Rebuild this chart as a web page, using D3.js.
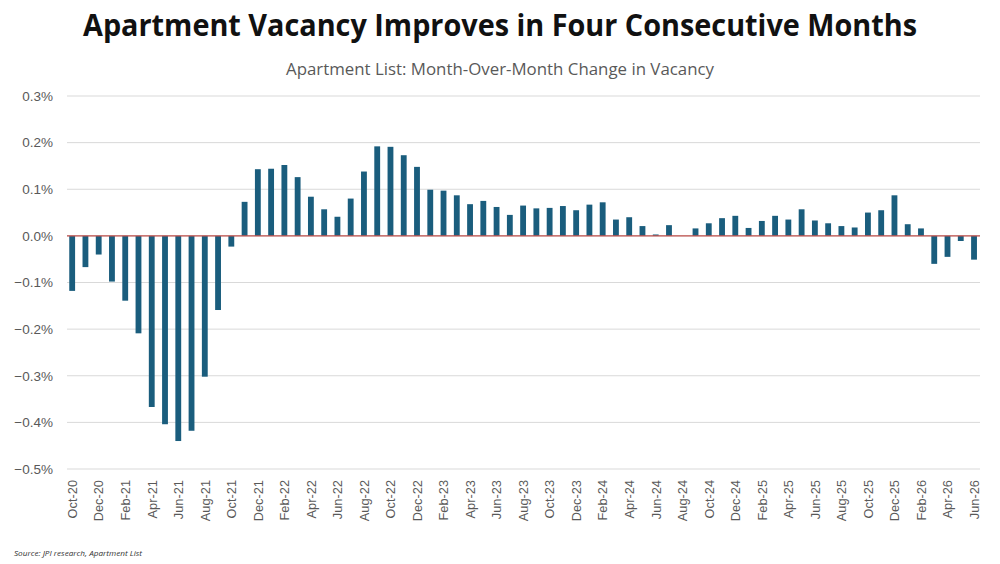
<!DOCTYPE html>
<html><head><meta charset="utf-8">
<script src="https://cdn.jsdelivr.net/npm/d3@7"></script>
<style>body{margin:0;background:#fff}svg{display:block}</style>
</head><body>
<svg id="c" width="1000" height="564"></svg>
<script>
const months = ["Oct-20","Nov-20","Dec-20","Jan-21","Feb-21","Mar-21","Apr-21","May-21","Jun-21","Jul-21","Aug-21","Sep-21",
"Oct-21","Nov-21","Dec-21","Jan-22","Feb-22","Mar-22","Apr-22","May-22","Jun-22","Jul-22","Aug-22","Sep-22",
"Oct-22","Nov-22","Dec-22","Jan-23","Feb-23","Mar-23","Apr-23","May-23","Jun-23","Jul-23","Aug-23","Sep-23",
"Oct-23","Nov-23","Dec-23","Jan-24","Feb-24","Mar-24","Apr-24","May-24","Jun-24","Jul-24","Aug-24","Sep-24",
"Oct-24","Nov-24","Dec-24","Jan-25","Feb-25","Mar-25","Apr-25","May-25","Jun-25","Jul-25","Aug-25","Sep-25",
"Oct-25","Nov-25","Dec-25","Jan-26","Feb-26","Mar-26","Apr-26","May-26","Jun-26"];
const vacancyChange = [-0.118,-0.067,-0.040,-0.098,-0.139,-0.209,-0.367,-0.404,-0.440,-0.418,-0.302,-0.159,
-0.023,0.073,0.143,0.144,0.152,0.126,0.084,0.057,0.041,0.080,0.138,0.192,
0.191,0.173,0.148,0.099,0.097,0.087,0.068,0.075,0.062,0.045,0.065,0.059,
0.060,0.064,0.055,0.067,0.072,0.035,0.040,0.021,0.003,0.023,0.000,0.016,
0.027,0.038,0.043,0.017,0.032,0.043,0.035,0.057,0.033,0.027,0.021,0.018,
0.050,0.055,0.087,0.025,0.016,-0.060,-0.045,-0.011,-0.051];
const yTicks = [0.3,0.2,0.1,0.0,-0.1,-0.2,-0.3,-0.4,-0.5];
const title = "Apartment Vacancy Improves in Four Consecutive Months";
const subtitle = "Apartment List: Month-Over-Month Change in Vacancy";
const source = "Source: JPI research, Apartment List";

const svg = d3.select("#c");
const plotLeft = 67, plotRight = 980, plotTop = 96, plotBottom = 469;

const x = d3.scaleBand().domain(months).range([plotLeft - 0.4, plotRight - 0.4]).paddingInner(0.56).paddingOuter(0.2);
const y = d3.scaleLinear().domain([-0.5, 0.3]).range([plotBottom, plotTop]);

// gridlines
svg.append("g").selectAll("line").data(yTicks).join("line")
  .attr("x1", plotLeft).attr("x2", plotRight)
  .attr("y1", d => y(d)).attr("y2", d => y(d))
  .attr("stroke", "#d9d9d9").attr("stroke-width", 1);

// y axis labels
const yAxis = d3.axisLeft(y).tickValues(yTicks).tickSize(0).tickPadding(0)
  .tickFormat(d => d3.format(".1f")(d) + "%");
const ya = svg.append("g").attr("transform", "translate(53,0)").call(yAxis);
ya.select(".domain").remove();
ya.selectAll("text").attr("font-family", "Liberation Sans, Arial, sans-serif")
  .attr("font-size", 13.5).attr("fill", "#595959");

// bars
svg.append("g").selectAll("rect").data(vacancyChange).join("rect")
  .attr("x", (d, i) => x(months[i]))
  .attr("width", x.bandwidth())
  .attr("y", d => y(Math.max(0, d)))
  .attr("height", d => Math.abs(y(d) - y(0)))
  .attr("fill", "#1a5d7d");

// zero line
svg.append("line").attr("x1", plotLeft).attr("x2", plotRight)
  .attr("y1", y(0)).attr("y2", y(0))
  .attr("stroke", "#c0504d").attr("stroke-width", 1.2);

// x axis labels
const shown = months.filter((m, i) => i % 2 === 0);
const xAxis = d3.axisBottom(x).tickValues(shown).tickSize(0).tickPadding(0);
const xa = svg.append("g").attr("transform", `translate(0,${plotBottom})`).call(xAxis);
xa.select(".domain").remove();
xa.selectAll("text")
  .attr("font-family", "Liberation Sans, Arial, sans-serif")
  .attr("font-size", 12.8).attr("fill", "#595959")
  .attr("text-anchor", "end")
  .attr("dy", null)
  .attr("transform", "translate(4.8,11) rotate(-90)")
  .attr("y", 0).attr("x", 0);

// title
svg.append("text").attr("x", 500).attr("y", 36).attr("text-anchor", "middle")
  .attr("font-family", "Open Sans, sans-serif").attr("font-weight", 700)
  .attr("font-size", 31).attr("fill", "#111")
  .attr("textLength", 834).attr("lengthAdjust", "spacingAndGlyphs")
  .text(title);

svg.append("text").attr("x", 500).attr("y", 75).attr("text-anchor", "middle")
  .attr("font-family", "Open Sans, sans-serif")
  .attr("font-size", 15.5).attr("fill", "#595959")
  .attr("textLength", 428).attr("lengthAdjust", "spacingAndGlyphs")
  .text(subtitle);

svg.append("text").attr("x", 14).attr("y", 556)
  .attr("font-family", "Open Sans, sans-serif").attr("font-style", "italic")
  .attr("font-size", 7.5).attr("fill", "#333")
  .attr("textLength", 128).attr("lengthAdjust", "spacingAndGlyphs")
  .text(source);
</script>
</body></html>
